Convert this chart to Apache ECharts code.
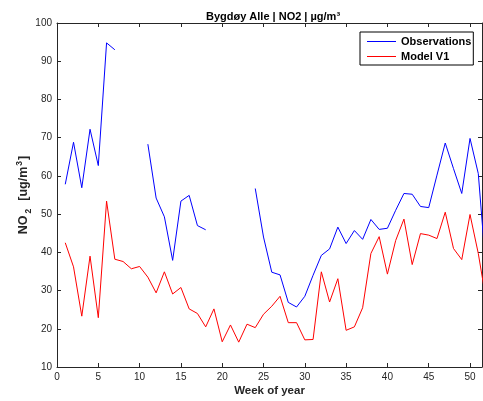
<!DOCTYPE html>
<html>
<head>
<meta charset="utf-8">
<script src="https://cdn.jsdelivr.net/npm/echarts@6/dist/echarts.min.js"></script>
<style>
html, body { margin: 0; padding: 0; background: #fff; }
#chart { width: 483px; height: 401px; }
</style>
</head>
<body>
<div id="chart"></div>
<script>
// weekly NO2 (null = no data)
var weeks = [1,2,3,4,5,6,7,8,9,10,11,12,13,14,15,16,17,18,19,20,21,22,23,24,25,26,
	27,28,29,30,31,32,33,34,35,36,37,38,39,40,41,42,43,44,45,46,47,48,49,50,51,52];
var observations = [57.8,68.8,56.9,72.2,62.7,94.8,93.0,null,null,null,68.3,54.2,49.3,37.9,53.4,54.9,47.0,45.9,
	null,null,null,null,null,56.7,44.0,34.8,34.1,26.9,25.7,28.5,34.0,39.2,40.9,46.6,42.3,45.7,43.4,48.6,46.0,46.3,
	51.0,55.4,55.2,52.0,51.7,60.2,68.6,61.9,55.4,69.8,60.6,33.6];
var modelV1 = [42.5,36.2,23.3,39.0,22.9,53.4,38.2,37.6,35.7,36.3,33.5,29.4,34.9,29.1,30.8,25.2,24.0,20.5,
	25.2,16.6,21.0,16.5,21.2,20.3,23.8,25.9,28.5,21.6,21.6,17.1,17.2,34.9,27.0,33.1,19.6,20.5,25.5,39.7,44.1,34.3,
	43.1,48.7,36.8,44.9,44.5,43.6,50.5,41.0,38.1,49.9,39.7,26.8];
var xTicks = [0,5,10,15,20,25,30,35,40,45,50];
var yTicks = [10,20,30,40,50,60,70,80,90,100];

var obsData = [], modData = [];
for (var i = 0; i < weeks.length; i++) {
	obsData.push([weeks[i], observations[i]]);
	modData.push([weeks[i], modelV1[i]]);
}

var font = '"Liberation Sans", Arial, Helvetica, sans-serif';
var axisCol = '#262626';

function mkX(pos, show) {
	return {
		type: 'value', position: pos, min: 0, max: 51.45, interval: 5,
		axisLine: { show: true, onZero: false, lineStyle: { color: axisCol, width: 1 } },
		axisTick: { show: true, inside: true, length: 4, lineStyle: { color: axisCol } },
		splitLine: { show: false },
		axisLabel: {
			show: show, color: axisCol, fontSize: 10, fontFamily: font, margin: 5, showMaxLabel: false,
			formatter: function (v) { return xTicks.indexOf(v) >= 0 ? String(v) : ''; }
		},
		name: show ? 'Week of year' : '',
		nameLocation: 'middle', nameGap: 18, nameMoveOverlap: false,
		nameTextStyle: { color: axisCol, fontSize: 11.5, fontWeight: 'bold', fontFamily: font }
	};
}
function mkY(pos, show) {
	return {
		type: 'value', position: pos, min: yTicks[0], max: yTicks[yTicks.length - 1], interval: 10,
		axisLine: { show: true, onZero: false, lineStyle: { color: axisCol, width: 1 } },
		axisTick: { show: true, inside: true, length: 4, lineStyle: { color: axisCol } },
		splitLine: { show: false },
		axisLabel: { show: show, color: axisCol, fontSize: 10, fontFamily: font, margin: 5 },
		name: show ? '{b|NO}{sub|2}{b|  [ug/m}{sup|3}{b|]}' : '',
		nameLocation: 'middle', nameGap: 24, nameRotate: 90, nameMoveOverlap: false,
		nameTextStyle: {
			color: axisCol, fontSize: 12.5, fontWeight: 'bold', fontFamily: font,
			rich: {
				b: { fontSize: 12.5, fontWeight: 'bold', fontFamily: font, color: axisCol, lineHeight: 18, verticalAlign: 'middle' },
				sub: { fontSize: 8.5, fontWeight: 'bold', fontFamily: font, color: axisCol, lineHeight: 18, verticalAlign: 'bottom', padding: [0, 1, 0, 2] },
				sup: { fontSize: 8.5, fontWeight: 'bold', fontFamily: font, color: axisCol, lineHeight: 18, verticalAlign: 'top', padding: [0, 1, 0, 1] }
			}
		}
	};
}

var chart = echarts.init(document.getElementById('chart'));
chart.setOption({
	animation: false,
	backgroundColor: '#fff',
	title: {
		text: 'Bygdøy Alle | NO2 | µg/m³',
		left: 268, top: 6, textAlign: 'center',
		textStyle: { color: '#000', fontSize: 11, fontWeight: 'bold', fontFamily: font }
	},
	legend: {
		orient: 'vertical', left: 360, top: 32,
		backgroundColor: '#fff', borderColor: '#000', borderWidth: 1,
		padding: [3, 2, 2, 7], itemGap: 2, itemWidth: 29, itemHeight: 1, icon: 'rect',
		textStyle: { color: '#000', fontSize: 11, fontWeight: 'bold', fontFamily: font, lineHeight: 13 },
		data: ['Observations', 'Model V1']
	},
	grid: { left: 57, right: 1, top: 23, bottom: 34, containLabel: false, outerBoundsMode: 'none' },
	xAxis: [mkX('bottom', true), mkX('top', false)],
	yAxis: [mkY('left', true), mkY('right', false)],
	series: [
		{ name: 'Observations', type: 'line', data: obsData, symbol: 'none', connectNulls: false,
			clip: true, lineStyle: { color: '#0000ff', width: 1 }, itemStyle: { color: '#0000ff' } },
		{ name: 'Model V1', type: 'line', data: modData, symbol: 'none', connectNulls: false,
			clip: true, lineStyle: { color: '#ff0000', width: 1 }, itemStyle: { color: '#ff0000' } }
	]
});
</script>
</body>
</html>
